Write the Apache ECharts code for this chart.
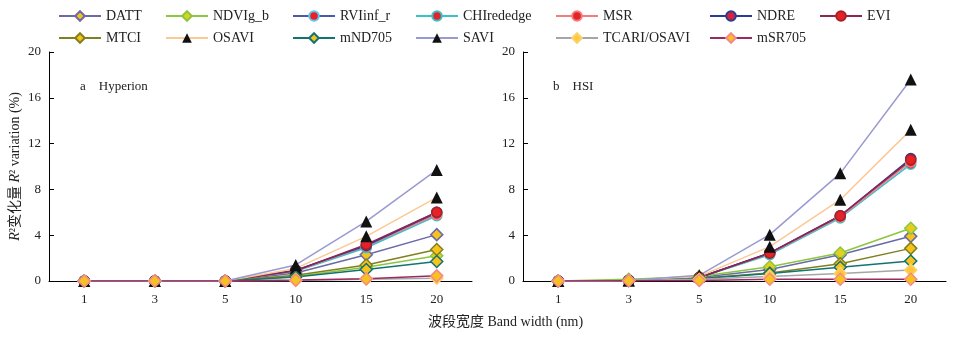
<!DOCTYPE html>
<html>
<head>
<meta charset="utf-8">
<script src="https://cdn.jsdelivr.net/npm/echarts@6/dist/echarts.min.js"></script>
<style>html,body{margin:0;padding:0;background:#fff}#c{width:960px;height:341px}</style>
</head>
<body>
<div id="c"></div>
<script>
const categories = ['1', '3', '5', '10', '15', '20'];
const yTicks = [0, 4, 8, 12, 16, 20];
const seriesNames = ['DATT', 'NDVIg_b', 'RVIinf_r', 'CHIrededge', 'MSR', 'NDRE', 'EVI',
  'MTCI', 'OSAVI', 'mND705', 'SAVI', 'TCARI/OSAVI', 'mSR705'];

// Panel a: Hyperion
const hypDATT       = [0, 0, 0, 0.7, 2.3, 4.05];
const hypNDVIg_b    = [0, 0, 0, 0.4, 1.2, 2.2];
const hypRVIinf_r   = [0, 0, 0, 0.9, 3.0, 5.9];
const hypCHIrededge = [0, 0, 0, 0.85, 2.9, 5.7];
const hypMSR        = [0, 0, 0, 0.9, 3.05, 5.8];
const hypNDRE       = [0, 0, 0, 0.95, 3.1, 6.0];
const hypEVI        = [0, 0, 0, 0.9, 3.2, 6.0];
const hypMTCI       = [0, 0, 0, 0.5, 1.4, 2.75];
const hypOSAVI      = [0, 0, 0, 1.1, 3.9, 7.3];
const hypmND705     = [0, 0, 0, 0.35, 1.0, 1.7];
const hypSAVI       = [0, 0, 0, 1.4, 5.2, 9.7];
const hypTCARI      = [0, 0, 0, 0.05, 0.15, 0.25];
const hypmSR705     = [0, 0, 0, 0.08, 0.2, 0.45];

// Panel b: HSI
const hsiDATT       = [0, 0.05, 0.3, 1.0, 2.3, 3.9];
const hsiNDVIg_b    = [0, 0.15, 0.4, 1.25, 2.45, 4.6];
const hsiRVIinf_r   = [0, 0.05, 0.3, 2.4, 5.6, 10.5];
const hsiCHIrededge = [0, 0.05, 0.3, 2.3, 5.5, 10.2];
const hsiMSR        = [0, 0.05, 0.3, 2.4, 5.6, 10.4];
const hsiNDRE       = [0, 0.05, 0.3, 2.45, 5.7, 10.7];
const hsiEVI        = [0, 0.05, 0.3, 2.45, 5.7, 10.6];
const hsiMTCI       = [0, 0.05, 0.25, 0.7, 1.5, 2.85];
const hsiOSAVI      = [0, 0.05, 0.4, 3.0, 7.1, 13.2];
const hsimND705     = [0, 0.05, 0.2, 0.65, 1.2, 1.75];
const hsiSAVI       = [0, 0.05, 0.5, 4.05, 9.4, 17.6];
const hsiTCARI      = [0, 0.05, 0.15, 0.4, 0.65, 0.95];
const hsimSR705     = [0, 0.02, 0.05, 0.15, 0.15, 0.15];

const hypData = [hypDATT, hypNDVIg_b, hypRVIinf_r, hypCHIrededge, hypMSR, hypNDRE, hypEVI,
  hypMTCI, hypOSAVI, hypmND705, hypSAVI, hypTCARI, hypmSR705];
const hsiData = [hsiDATT, hsiNDVIg_b, hsiRVIinf_r, hsiCHIrededge, hsiMSR, hsiNDRE, hsiEVI,
  hsiMTCI, hsiOSAVI, hsimND705, hsiSAVI, hsiTCARI, hsimSR705];

const FONT = "'Liberation Serif', 'Times New Roman', 'Noto Sans CJK SC', serif";
const GOLD = '#f6c21e';
const RED = '#e5212a';
const styles = {
  'DATT':        {line: '#6a6aa6', symbol: 'diamond', fill: GOLD, border: '#6a6aa6'},
  'NDVIg_b':     {line: '#8cc63e', symbol: 'diamond', fill: '#e3cf22', border: '#8cc63e'},
  'RVIinf_r':    {line: '#4b5aa6', symbol: 'circle', fill: RED, border: '#62c6ea'},
  'CHIrededge':  {line: '#36c3cc', symbol: 'circle', fill: RED, border: '#36c3cc'},
  'MSR':         {line: '#f47c7c', symbol: 'circle', fill: RED, border: '#f47c7c'},
  'NDRE':        {line: '#2b3a92', symbol: 'circle', fill: '#d2243a', border: '#2b3a92'},
  'EVI':         {line: '#8e2655', symbol: 'circle', fill: RED, border: '#a82222'},
  'MTCI':        {line: '#80801f', symbol: 'diamond', fill: GOLD, border: '#80801f'},
  'OSAVI':       {line: '#fbc994', symbol: 'triangle', fill: '#111', border: '#111'},
  'mND705':      {line: '#127373', symbol: 'diamond', fill: GOLD, border: '#127373'},
  'SAVI':        {line: '#9a9ad2', symbol: 'triangle', fill: '#111', border: '#111'},
  'TCARI/OSAVI': {line: '#a6a6a6', symbol: 'diamond', fill: '#ffc83a', border: '#fdd06a'},
  'mSR705':      {line: '#9a2a62', symbol: 'diamond', fill: GOLD, border: '#f4888a'}
};
const symSize = {diamond: 12, circle: 10, triangle: 12};

function makeSeries(dataList, idx) {
  return seriesNames.map((n, i) => {
    const s = styles[n];
    return {
      name: n, type: 'line', xAxisIndex: idx, yAxisIndex: idx,
      data: dataList[i],
      symbol: s.symbol, symbolSize: symSize[s.symbol],
      showAllSymbol: true,
      lineStyle: {color: s.line, width: 1.5},
      itemStyle: {color: s.fill, borderColor: s.border, borderWidth: s.symbol === 'triangle' ? 0 : 1.5},
      animation: false
    };
  });
}

const legendCols = [
  {left: 58, data: ['DATT', 'MTCI']},
  {left: 165, data: ['NDVIg_b', 'OSAVI']},
  {left: 292, data: ['RVIinf_r', 'mND705']},
  {left: 415, data: ['CHIrededge', 'SAVI']},
  {left: 555, data: ['MSR', 'TCARI/OSAVI']},
  {left: 709, data: ['NDRE', 'mSR705']},
  {left: 819, data: ['EVI']}
];

function xAxis(gi) {
  return {
    type: 'category', gridIndex: gi, data: categories, boundaryGap: true,
    axisLine: {lineStyle: {color: '#000', width: 1}},
    axisTick: {inside: true, length: 5, lineStyle: {color: '#000'}},
    axisLabel: {fontFamily: FONT, fontSize: 13, color: '#222', margin: 12},
    splitLine: {show: false}
  };
}
function yAxis(gi, withName) {
  const a = {
    type: 'value', gridIndex: gi, min: yTicks[0], max: yTicks[yTicks.length - 1], interval: 4,
    axisLine: {show: true, lineStyle: {color: '#000', width: 1}},
    axisTick: {show: true, inside: true, length: 5, lineStyle: {color: '#000'}},
    axisLabel: {fontFamily: FONT, fontSize: 13, color: '#222', margin: 8},
    splitLine: {show: false}
  };
  if (withName) {
    a.name = '{i|R}²变化量 {i|R}² variation (%)';
    a.nameLocation = 'middle';
    a.nameRotate = 90;
    a.nameGap = 27;
    a.nameTextStyle = {fontFamily: FONT, fontSize: 14, color: '#222',
      rich: {i: {fontFamily: FONT, fontStyle: 'italic', fontSize: 14, color: '#222'}}};
  }
  return a;
}

const option = {
  backgroundColor: '#fff',
  animation: false,
  legend: legendCols.map(c => ({
    left: c.left, top: 9, orient: 'vertical', data: c.data, padding: 0,
    itemWidth: 42, itemHeight: 12, itemGap: 8,
    textStyle: {fontFamily: FONT, fontSize: 14, color: '#222'},
    selectedMode: false
  })),
  grid: [
    {left: 49, top: 52, width: 423, height: 229},
    {left: 523, top: 52, width: 423, height: 229}
  ],
  xAxis: [xAxis(0), xAxis(1)],
  yAxis: [yAxis(0, true), yAxis(1, false)],
  graphic: [
    {type: 'text', left: 80, top: 80, style: {text: 'a    Hyperion', font: '13px ' + FONT, fill: '#222'}},
    {type: 'text', left: 553, top: 80, style: {text: 'b    HSI', font: '13px ' + FONT, fill: '#222'}},
    {type: 'text', left: 428, top: 315, style: {text: '波段宽度 Band width (nm)', font: '14px ' + FONT, fill: '#222'}}
  ],
  series: makeSeries(hypData, 0).concat(makeSeries(hsiData, 1))
};

const chart = echarts.init(document.getElementById('c'), null, {renderer: 'canvas'});
chart.setOption(option);
</script>
</body>
</html>
